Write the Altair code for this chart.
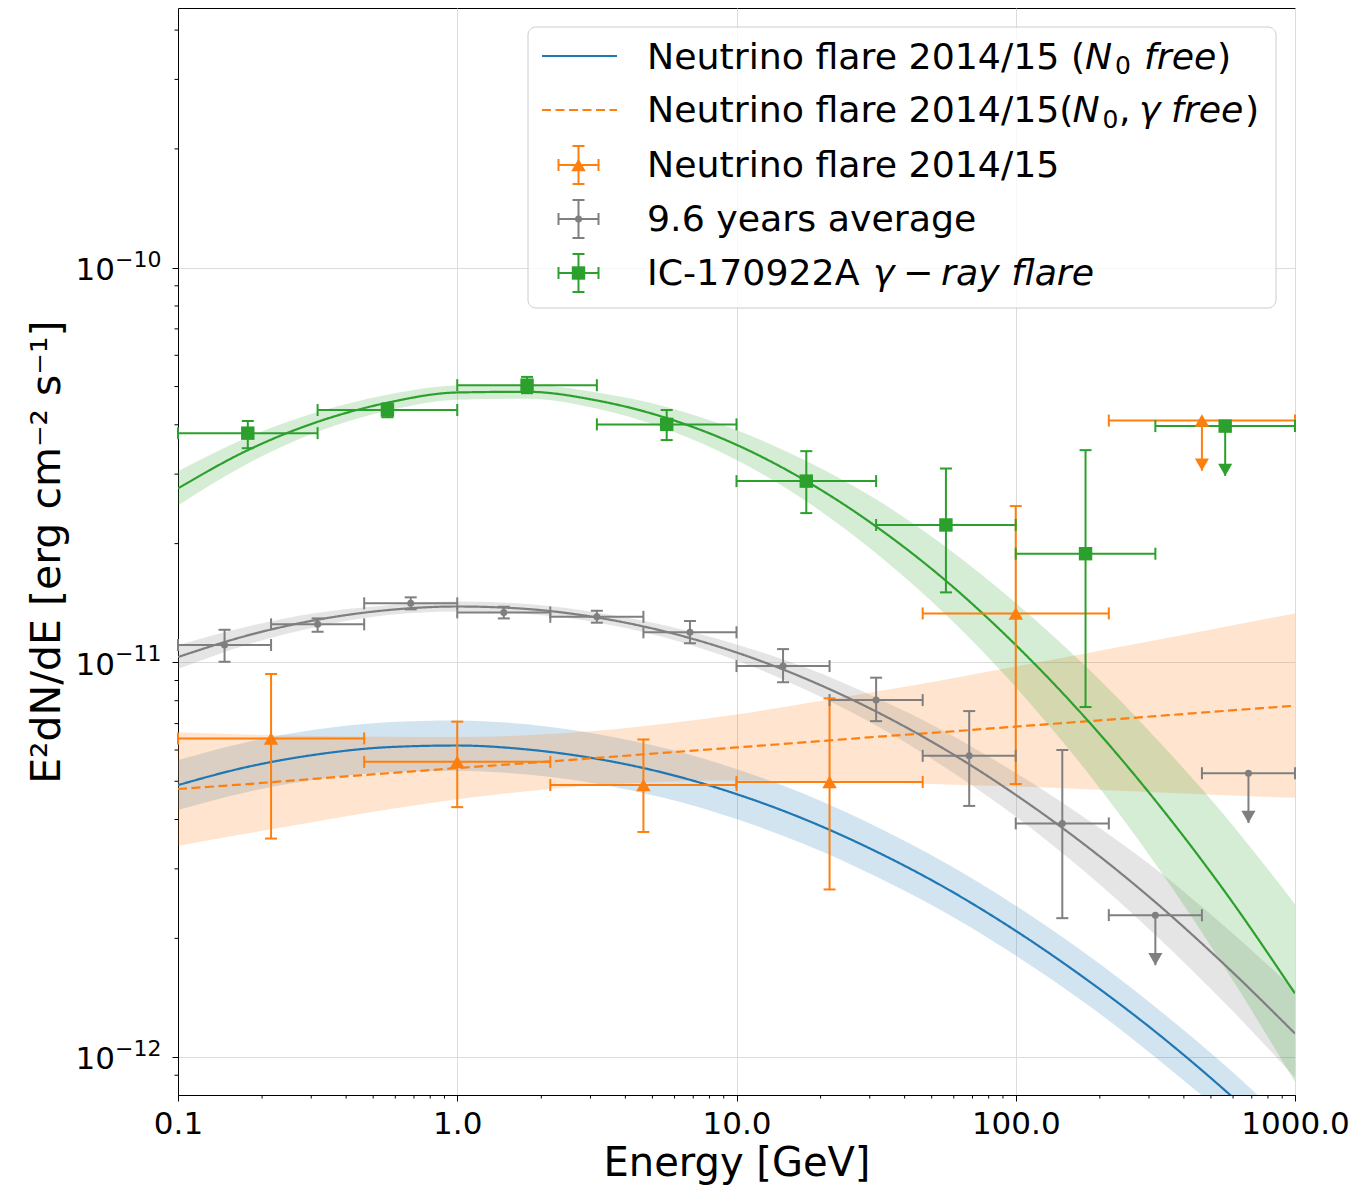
import altair as alt
import pandas as pd

# ---------------- values ----------------
fit_E = [0.1, 0.1778, 0.3162, 0.5623, 1.0, 1.778, 3.162, 5.623, 10.0, 17.78,
         31.62, 56.23, 100.0, 177.8, 316.2, 562.3, 1000.0]

# Neutrino flare 2014/15 (N0 free)  -- blue
nu_free_F = [4.89e-12, 5.44e-12, 5.85e-12, 6.10e-12, 6.16e-12, 6.02e-12, 5.70e-12, 5.23e-12, 4.64e-12,
             3.99e-12, 3.32e-12, 2.68e-12, 2.09e-12, 1.58e-12, 1.16e-12, 8.23e-13, 5.65e-13]
nu_free_lo = [4.23e-12, 4.70e-12, 5.06e-12, 5.27e-12, 5.32e-12, 5.20e-12, 4.93e-12, 4.52e-12, 4.01e-12,
              3.45e-12, 2.87e-12, 2.32e-12, 1.81e-12, 1.37e-12, 1.00e-12, 7.11e-13, 4.88e-13]
nu_free_hi = [5.66e-12, 6.29e-12, 6.77e-12, 7.06e-12, 7.13e-12, 6.97e-12, 6.59e-12, 6.05e-12, 5.37e-12,
              4.62e-12, 3.84e-12, 3.10e-12, 2.42e-12, 1.83e-12, 1.34e-12, 9.52e-13, 6.54e-13]

# Neutrino flare 2014/15 (N0, gamma free) -- orange dashed
nu_gam_F = [4.78e-12, 4.92e-12, 5.08e-12, 5.24e-12, 5.40e-12, 5.56e-12, 5.73e-12, 5.91e-12, 6.09e-12,
            6.28e-12, 6.48e-12, 6.67e-12, 6.88e-12, 7.09e-12, 7.31e-12, 7.54e-12, 7.77e-12]
nu_gam_lo = [3.43e-12, 3.69e-12, 3.96e-12, 4.24e-12, 4.50e-12, 4.72e-12, 4.89e-12, 4.99e-12, 5.02e-12,
             5.01e-12, 4.97e-12, 4.91e-12, 4.85e-12, 4.77e-12, 4.69e-12, 4.61e-12, 4.54e-12]
nu_gam_hi = [6.66e-12, 6.57e-12, 6.51e-12, 6.48e-12, 6.47e-12, 6.54e-12, 6.71e-12, 7.00e-12, 7.38e-12,
             7.88e-12, 8.44e-12, 9.06e-12, 9.77e-12, 1.054e-11, 1.138e-11, 1.232e-11, 1.331e-11]

# 9.6 years average fit -- gray
avg_F = [1.032e-11, 1.171e-11, 1.283e-11, 1.357e-11, 1.386e-11, 1.366e-11, 1.300e-11, 1.195e-11, 1.060e-11,
         9.08e-12, 7.51e-12, 6.00e-12, 4.62e-12, 3.44e-12, 2.47e-12, 1.71e-12, 1.148e-12]
avg_lo = [9.62e-12, 1.111e-11, 1.232e-11, 1.318e-11, 1.346e-11, 1.326e-11, 1.263e-11, 1.154e-11, 1.012e-11,
          8.52e-12, 6.92e-12, 5.40e-12, 4.07e-12, 2.94e-12, 2.04e-12, 1.37e-12, 8.88e-13]
avg_hi = [1.107e-11, 1.234e-11, 1.336e-11, 1.397e-11, 1.427e-11, 1.406e-11, 1.339e-11, 1.238e-11, 1.111e-11,
          9.69e-12, 8.15e-12, 6.66e-12, 5.25e-12, 4.03e-12, 3.00e-12, 2.14e-12, 1.48e-12]

# IC-170922A gamma-ray flare fit -- green
gam_F = [2.76e-11, 3.45e-11, 4.07e-11, 4.55e-11, 4.83e-11, 4.85e-11, 4.61e-11, 4.16e-11, 3.56e-11,
         2.88e-11, 2.21e-11, 1.61e-11, 1.107e-11, 7.23e-12, 4.47e-12, 2.62e-12, 1.45e-12]
gam_lo = [2.50e-11, 3.19e-11, 3.84e-11, 4.34e-11, 4.63e-11, 4.66e-11, 4.40e-11, 3.90e-11, 3.26e-11,
          2.56e-11, 1.89e-11, 1.32e-11, 8.66e-12, 5.34e-12, 3.09e-12, 1.68e-12, 8.65e-13]
gam_hi = [3.05e-11, 3.72e-11, 4.31e-11, 4.77e-11, 5.03e-11, 5.05e-11, 4.83e-11, 4.44e-11, 3.88e-11,
          3.24e-11, 2.59e-11, 1.96e-11, 1.415e-11, 9.79e-12, 6.45e-12, 4.08e-12, 2.44e-12]

# data points: 9.6 years average
avg_E = [0.1468, 0.3162, 0.6813, 1.468, 3.162, 6.813, 14.68, 31.62, 68.13, 146.8]
avg_Elo = [0.1, 0.2154, 0.4642, 1.0, 2.154, 4.642, 10.0, 21.54, 46.42, 100.0]
avg_Ehi = [0.2154, 0.4642, 1.0, 2.154, 4.642, 10.0, 21.54, 46.42, 100.0, 215.4]
avg_pF = [1.107e-11, 1.249e-11, 1.412e-11, 1.339e-11, 1.305e-11, 1.192e-11, 9.79e-12, 8.03e-12, 5.80e-12, 3.91e-12]
avg_pFlo = [1.004e-11, 1.196e-11, 1.363e-11, 1.293e-11, 1.261e-11, 1.118e-11, 8.91e-12, 7.10e-12, 4.33e-12, 2.25e-12]
avg_pFhi = [1.210e-11, 1.293e-11, 1.462e-11, 1.384e-11, 1.352e-11, 1.273e-11, 1.081e-11, 9.15e-12, 7.53e-12, 6.00e-12]
avg_ul_E = [316.2, 681.3]
avg_ul_Elo = [215.4, 464.2]
avg_ul_Ehi = [464.2, 1000.0]
avg_ul_F = [2.29e-12, 5.24e-12]
avg_ul_tip = [1.71e-12, 3.92e-12]

# data points: Neutrino flare 2014/15
nu_E = [0.2154, 1.0, 4.642, 21.54, 100.0]
nu_Elo = [0.1, 0.4642, 2.154, 10.0, 46.42]
nu_Ehi = [0.4642, 2.154, 10.0, 46.42, 215.4]
nu_pF = [6.42e-12, 5.60e-12, 4.89e-12, 4.98e-12, 1.331e-11]
nu_pFlo = [3.58e-12, 4.30e-12, 3.72e-12, 2.66e-12, 4.92e-12]
nu_pFhi = [9.35e-12, 7.08e-12, 6.38e-12, 8.11e-12, 2.49e-11]
nu_ul_E = [464.2]
nu_ul_Elo = [215.4]
nu_ul_Ehi = [1000.0]
nu_ul_F = [4.10e-11]
nu_ul_tip = [3.06e-11]

# data points: IC-170922A gamma-ray flare
gm_E = [0.1778, 0.5623, 1.778, 5.623, 17.78, 56.23, 177.8]
gm_Elo = [0.1, 0.3162, 1.0, 3.162, 10.0, 31.62, 100.0]
gm_Ehi = [0.3162, 1.0, 3.162, 10.0, 31.62, 100.0, 316.2]
gm_pF = [3.81e-11, 4.36e-11, 5.04e-11, 4.01e-11, 2.88e-11, 2.23e-11, 1.886e-11]
gm_pFlo = [3.49e-11, 4.18e-11, 4.81e-11, 3.66e-11, 2.39e-11, 1.505e-11, 7.71e-12]
gm_pFhi = [4.09e-11, 4.53e-11, 5.29e-11, 4.36e-11, 3.43e-11, 3.10e-11, 3.45e-11]
gm_ul_E = [562.3]
gm_ul_Elo = [316.2]
gm_ul_Ehi = [1000.0]
gm_ul_F = [3.97e-11]
gm_ul_tip = [2.97e-11]

x_major = [0.1, 1, 10, 100, 1000]
x_minor = [0.2, 0.3, 0.4, 0.5, 0.6, 0.7, 0.8, 0.9,
           2, 3, 4, 5, 6, 7, 8, 9,
           20, 30, 40, 50, 60, 70, 80, 90,
           200, 300, 400, 500, 600, 700, 800, 900]
y_major = [1e-12, 1e-11, 1e-10]
y_major_base = ["10", "10", "10"]
y_major_exp = ["−12", "−11", "−10"]
y_minor = [9e-13, 2e-12, 3e-12, 4e-12, 5e-12, 6e-12, 7e-12, 8e-12, 9e-12,
           2e-11, 3e-11, 4e-11, 5e-11, 6e-11, 7e-11, 8e-11, 9e-11,
           2e-10, 3e-10, 4e-10]

# ---------------- tables ----------------
models = ["nu_free", "nu_gamma", "avg", "gamma"]
fit_sets = {"nu_free": (nu_free_F, nu_free_lo, nu_free_hi),
            "nu_gamma": (nu_gam_F, nu_gam_lo, nu_gam_hi),
            "avg": (avg_F, avg_lo, avg_hi),
            "gamma": (gam_F, gam_lo, gam_hi)}
rows = []
for m in models:
    F, lo, hi = fit_sets[m]
    for e, f, l, h in zip(fit_E, F, lo, hi):
        rows.append({"key": m, "E": e, "F": f, "Flo": l, "Fhi": h})
fits = pd.DataFrame(rows)

series = ["nu", "avg", "gamma"]
pt_sets = {"nu": (nu_E, nu_Elo, nu_Ehi, nu_pF, nu_pFlo, nu_pFhi),
           "avg": (avg_E, avg_Elo, avg_Ehi, avg_pF, avg_pFlo, avg_pFhi),
           "gamma": (gm_E, gm_Elo, gm_Ehi, gm_pF, gm_pFlo, gm_pFhi)}
rows = []
for s in series:
    for e, el, eh, f, fl, fh in zip(*pt_sets[s]):
        rows.append({"key": s, "E": e, "Elo": el, "Ehi": eh, "F": f, "Flo": fl, "Fhi": fh})
pts = pd.DataFrame(rows)

ul_sets = {"nu": (nu_ul_E, nu_ul_Elo, nu_ul_Ehi, nu_ul_F, nu_ul_tip),
           "avg": (avg_ul_E, avg_ul_Elo, avg_ul_Ehi, avg_ul_F, avg_ul_tip),
           "gamma": (gm_ul_E, gm_ul_Elo, gm_ul_Ehi, gm_ul_F, gm_ul_tip)}
rows = []
for s in series:
    for e, el, eh, f, t in zip(*ul_sets[s]):
        rows.append({"key": s, "E": e, "Elo": el, "Ehi": eh, "F": f, "Ftip": t})
uls = pd.DataFrame(rows)

xminor_df = pd.DataFrame({"v": x_minor})
yminor_df = pd.DataFrame({"v": y_minor})
ylab_df = pd.DataFrame({"v": y_major, "base": y_major_base, "exp": y_major_exp})

BLUE, ORANGE, GREEN, GRAY = "#1f77b4", "#ff7f0e", "#2ca02c", "#7f7f7f"
FONT = "DejaVu Sans"

xs = alt.Scale(type="log", domain=[0.1, 1000], nice=False)
ys = alt.Scale(type="log", domain=[8.02e-13, 4.55e-10], nice=False)

x_axis = alt.Axis(
    values=x_major,
    labelExpr="format(datum.value, '.1f')",
    tickSize=6, grid=True, gridColor="#dcdcdc", gridWidth=1,
    tickColor="black", tickWidth=1, domainColor="black", domainWidth=1,
    labelFont=FONT, labelFontSize=31, labelColor="black", labelFlush=False,
    labelOverlap=False, labelPadding=32, labelBaseline="alphabetic",
    title="Energy [GeV]", titleFont=FONT, titleFontSize=40, titleFontWeight="normal",
    titleColor="black", titleX=558.5, titleY=80, titleBaseline="alphabetic", titleAlign="center",
)
y_axis = alt.Axis(
    values=y_major, labels=False,
    tickSize=6, grid=True, gridColor="#dcdcdc", gridWidth=1,
    tickColor="black", tickWidth=1, domainColor="black", domainWidth=1,
    title="E²dN/dE [erg cm⁻² s⁻¹]", titleFont=FONT, titleFontSize=41, titleFontWeight="normal",
    titleColor="black", titleX=-118.5, titleY=543.7, titleAngle=270,
    titleBaseline="alphabetic", titleAlign="center",
)

color_scale = alt.Scale(domain=["nu_free", "nu_gamma", "avg", "gamma", "nu"],
                        range=[BLUE, ORANGE, GRAY, GREEN, ORANGE])
C = alt.Color("key:N", scale=color_scale, legend=None)


def X(f, axis=None):
    if axis is None:
        return alt.X(f, type="quantitative", scale=xs)
    return alt.X(f, type="quantitative", scale=xs, axis=axis)


def Y(f, axis=None):
    if axis is None:
        return alt.Y(f, type="quantitative", scale=ys)
    return alt.Y(f, type="quantitative", scale=ys, axis=axis)


bands = alt.Chart(fits).mark_area(opacity=0.2, clip=True, interpolate="monotone").encode(
    x=X("E", x_axis), y=Y("Flo", y_axis), y2="Fhi", color=C)
lines = alt.Chart(fits).mark_line(clip=True, interpolate="monotone", strokeWidth=2.2).encode(
    x=X("E"), y=Y("F"), color=C,
    strokeDash=alt.StrokeDash("key:N", scale=alt.Scale(domain=models, range=[[1, 0], [9, 4.5], [1, 0], [1, 0]]),
                              legend=None))

xminor = alt.Chart(xminor_df).mark_rule(color="black", strokeWidth=1).encode(
    x=X("v"), y=alt.value(1087), y2=alt.value(1090.5))
yminor = alt.Chart(yminor_df).mark_rule(color="black", strokeWidth=1).encode(
    y=Y("v"), x=alt.value(0), x2=alt.value(-3.5))

# y tick labels as "10" with a real superscript exponent
ylab_base = alt.Chart(ylab_df).mark_text(align="right", baseline="alphabetic", font=FONT, fontSize=31,
                                         color="black", dy=12.3).encode(
    y=Y("v"), x=alt.value(-63), text="base:N")
ylab_exp = alt.Chart(ylab_df).mark_text(align="left", baseline="alphabetic", font=FONT, fontSize=22,
                                        color="black", dy=-1).encode(
    y=Y("v"), x=alt.value(-63), text="exp:N")

EW = 2
CAP = 12
pbase = alt.Chart(pts)
hbar = pbase.mark_rule(strokeWidth=EW).encode(x=X("Elo"), x2="Ehi", y=Y("F"), color=C)
vbar = pbase.mark_rule(strokeWidth=EW).encode(x=X("E"), y=Y("Flo"), y2="Fhi", color=C)
cap1 = pbase.mark_tick(orient="vertical", size=CAP, thickness=EW, opacity=1).encode(x=X("Elo"), y=Y("F"), color=C)
cap2 = pbase.mark_tick(orient="vertical", size=CAP, thickness=EW, opacity=1).encode(x=X("Ehi"), y=Y("F"), color=C)
cap3 = pbase.mark_tick(orient="horizontal", size=CAP, thickness=EW, opacity=1).encode(x=X("E"), y=Y("Flo"), color=C)
cap4 = pbase.mark_tick(orient="horizontal", size=CAP, thickness=EW, opacity=1).encode(x=X("E"), y=Y("Fhi"), color=C)

ubase = alt.Chart(uls)
uhbar = ubase.mark_rule(strokeWidth=EW).encode(x=X("Elo"), x2="Ehi", y=Y("F"), color=C)
ucap1 = ubase.mark_tick(orient="vertical", size=CAP, thickness=EW, opacity=1).encode(x=X("Elo"), y=Y("F"), color=C)
ucap2 = ubase.mark_tick(orient="vertical", size=CAP, thickness=EW, opacity=1).encode(x=X("Ehi"), y=Y("F"), color=C)
uarrow = ubase.mark_rule(strokeWidth=EW).encode(x=X("E"), y=Y("F"), y2="Ftip", color=C)
uhead = ubase.mark_point(filled=True, opacity=1, shape="triangle-down", size=200, yOffset=-6).encode(
    x=X("E"), y=Y("Ftip"), color=C)

marker_style = {"nu": ("triangle-up", 210), "avg": ("circle", 49), "gamma": ("square", 180)}
marker_layers = []
for s in series:
    shp, sz = marker_style[s]
    for base in (pbase, ubase):
        marker_layers.append(
            base.transform_filter(alt.datum.key == s).mark_point(filled=True, opacity=1, shape=shp, size=sz)
            .encode(x=X("E"), y=Y("F"), color=C))

# ---------------- legend (drawn by hand) ----------------
dummy = pd.DataFrame({"k": [0]})
D = alt.Chart(dummy)


def rule(x1, x2, y1, y2, color, dash=None, w=2):
    kw = dict(color=color, strokeWidth=w)
    if dash:
        kw["strokeDash"] = dash
    return D.mark_rule(**kw).encode(x=alt.value(x1), x2=alt.value(x2), y=alt.value(y1), y2=alt.value(y2))


def txt(s, x, y, size=36.3, style="normal"):
    return D.mark_text(text=s, align="left", baseline="alphabetic", font=FONT, fontSize=size,
                       fontStyle=style, color="black").encode(x=alt.value(x), y=alt.value(y))


def errsym(cx, cy, color, shape, size):
    return [
        rule(cx - 20, cx + 20, cy, cy, color),
        rule(cx, cx, cy - 19, cy + 19, color),
        rule(cx - 20, cx - 20, cy - 6, cy + 6, color),
        rule(cx + 20, cx + 20, cy - 6, cy + 6, color),
        rule(cx - 6, cx + 6, cy - 19, cy - 19, color),
        rule(cx - 6, cx + 6, cy + 19, cy + 19, color),
        D.mark_point(filled=True, opacity=1, shape=shape, size=size, color=color).encode(
            x=alt.value(cx), y=alt.value(cy)),
    ]


leg = [D.mark_rect(fill="white", fillOpacity=0.8, stroke="#cccccc", strokeWidth=1, cornerRadius=8).encode(
    x=alt.value(350), x2=alt.value(1098), y=alt.value(19), y2=alt.value(300))]
leg += [rule(364, 439, 48, 48, BLUE, w=2.2),
        rule(364, 439, 102, 102, ORANGE, dash=[9, 4.5], w=2.2)]
leg += errsym(400.5, 157, ORANGE, "triangle-up", 210)
leg += errsym(400.5, 211, GRAY, "circle", 49)
leg += errsym(400.5, 265, GREEN, "square", 180)
leg += [
    txt("Neutrino flare 2014/15 (", 469, 60.5),
    txt("N", 907, 60.5, style="italic"),
    txt("0", 937, 66, size=25),
    txt("free", 966, 60.5, style="italic"),
    txt(")", 1039, 60.5),
    txt("Neutrino flare 2014/15(", 469, 114),
    txt("N", 894.5, 114, style="italic"),
    txt("0", 924.5, 119.5, size=25),
    txt(",", 941, 114),
    txt("γ", 961, 114, style="italic"),
    txt("free", 993, 114, style="italic"),
    txt(")", 1067, 114),
    txt("Neutrino flare 2014/15", 469, 168.5),
    txt("9.6 years average", 469, 222.5),
    txt("IC-170922A", 469, 277),
    txt("γ", 695, 277, style="italic"),
    txt("−", 725, 277),
    txt("ray flare", 763, 277, style="italic"),
]

chart = alt.layer(
    bands, lines, xminor, yminor, ylab_base, ylab_exp,
    hbar, vbar, cap1, cap2, cap3, cap4,
    uhbar, ucap1, ucap2, uarrow, uhead,
    *marker_layers,
    *leg,
).properties(
    width=1117, height=1087,
    padding={"left": 178, "top": 8, "right": 63, "bottom": 90},
    autosize=alt.AutoSizeParams(type="none"),
    background="white",
).configure_view(stroke="black", strokeWidth=1)

chart.save("out.html", embed_options={"renderer": "svg", "actions": False})
